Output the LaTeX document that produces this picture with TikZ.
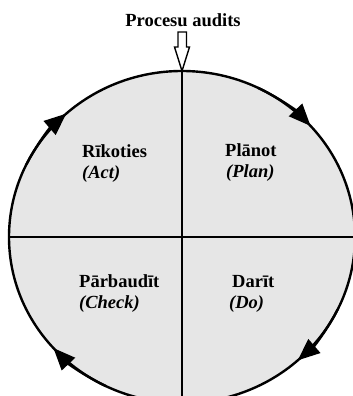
\documentclass[tikz,border=0pt]{standalone}
\usepackage{fontspec}
\setmainfont{Liberation Serif}
\usetikzlibrary{arrows.meta, positioning}
\definecolor{quadfill}{RGB}{230,230,230}
\tikzset{
  phase/.style   = {font=\fontsize{18.5}{20}\selectfont\bfseries, inner sep=0pt, anchor=base west},
  phasesub/.style= {font=\fontsize{18.5}{20}\selectfont\bfseries\itshape, inner sep=0pt, anchor=base west},
  cycle/.style   = {line width=2.4pt, -{Triangle[length=22pt,width=18pt]}},
}
\begin{document}
\begin{tikzpicture}[x=1pt, y=1pt, line join=miter]
  \clip (0,0) rectangle (353,396);
  \coordinate (c) at (182,159);

  % circle with quadrants
  \draw[line width=2.4pt, fill=quadfill] (c) ellipse [x radius=173, y radius=166];
  \coordinate (top)    at (182,325);
  \coordinate (bottom) at (182,-10);
  \coordinate (left)   at (9,159);
  \coordinate (right)  at (355,159);
  \draw[line width=2.4pt] (top) -- (bottom);
  \draw[line width=2.4pt] (left) -- (right);

  % clockwise arrows
  \foreach \a in {42, -48, -138, 132}
    \draw[cycle] (c) ++(\a+22:173 and 166)
      arc [start angle=\a+22, end angle=\a, x radius=173, y radius=166];

  % title and hollow arrow
  \node[font=\fontsize{18.5}{20}\selectfont\bfseries, inner sep=0pt, anchor=base] (title) at (183,369) {Procesu audits};
  \draw[line width=1.4pt, fill=white]
    (178,364) -- (186.5,364) -- (186.5,349) -- (189.5,349) -- (top)
    -- (174.5,349) -- (178,349) -- cycle;

  % phases
  \node[phase] (act) at (82,238) {Rīkoties};
  \node[phasesub] at ([yshift=-21pt]act.base west) {(Act)};
  \node[phase] (plan) at (225,239) {Plānot};
  \node[phasesub] at ([yshift=-21pt,xshift=1pt]plan.base west) {(Plan)};
  \node[phase] (check) at (79,108) {Pārbaudīt};
  \node[phasesub] at ([yshift=-21pt]check.base west) {(Check)};
  \node[phase] (do) at (232,108) {Darīt};
  \node[phasesub] at ([yshift=-21pt,xshift=-3pt]do.base west) {(Do)};
\end{tikzpicture}
\end{document}
